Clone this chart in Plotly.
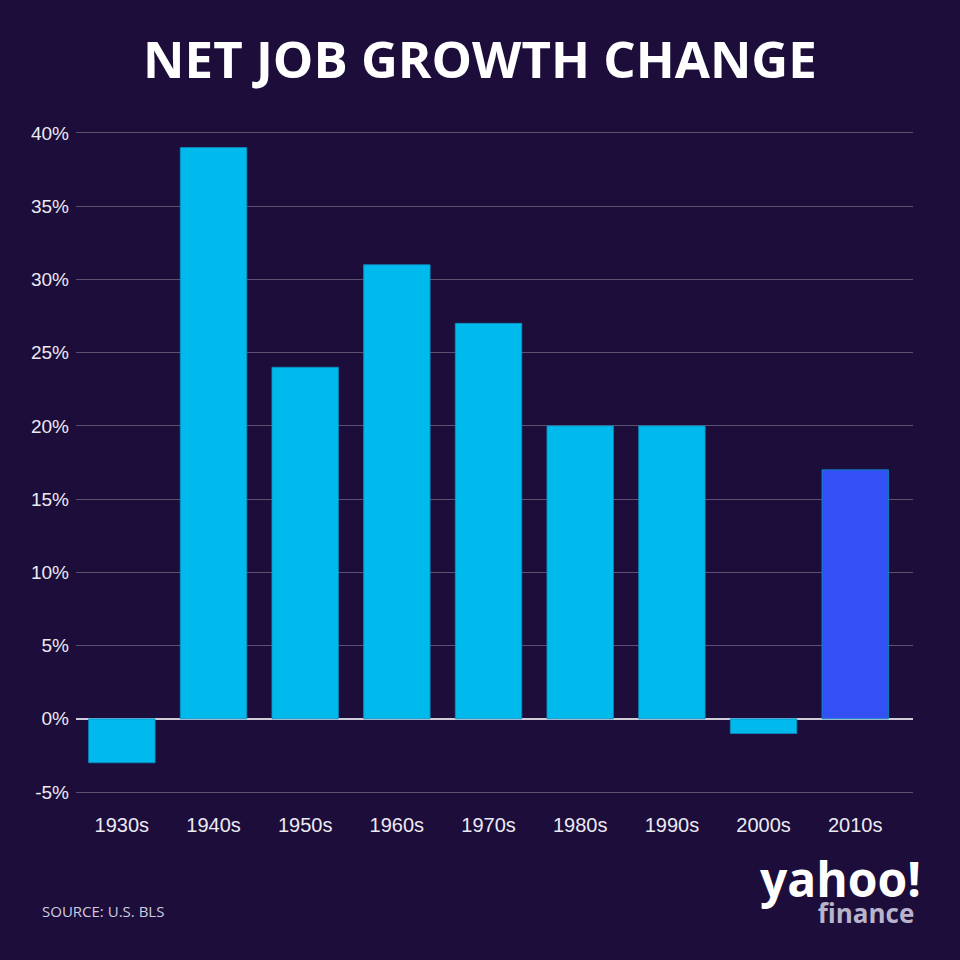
import plotly.graph_objects as go

# datos
decadas = ['1930s', '1940s', '1950s', '1960s', '1970s', '1980s', '1990s', '2000s', '2010s']
crecimiento = [-3, 39, 24, 31, 27, 20, 20, -1, 17]
colores = ['#00b9ed'] * 8 + ['#3350f5']

ticks_y = [-5, 0, 5, 10, 15, 20, 25, 30, 35, 40]
etiquetas_y = [f'{v}%' for v in ticks_y]

fondo = '#1d0d3a'

fig = go.Figure()
fig.add_trace(go.Bar(
    x=decadas, y=crecimiento,
    marker=dict(color=colores, line=dict(color='#0b8fc0', width=0.8)),
    width=0.725,
))

fig.update_layout(
    width=960, height=960,
    paper_bgcolor=fondo, plot_bgcolor=fondo,
    margin=dict(l=76, r=47, t=130, b=165),
    showlegend=False,
    font=dict(family='Liberation Sans, Arial, sans-serif', color='#eceaf2', size=19),
    title=dict(
        text='<b>NET JOB GROWTH CHANGE</b>',
        x=0.5, xanchor='center', y=0.937, yanchor='middle',
        font=dict(family='Open Sans, sans-serif', size=51, color='white'),
    ),
)

fig.update_xaxes(
    range=[-0.5, 8.63], showgrid=False, zeroline=False, showline=False,
    ticks='', tickfont=dict(size=20), ticklabelstandoff=16,
)
fig.update_yaxes(
    range=[-5.2, 40.2], tickvals=ticks_y, ticktext=etiquetas_y,
    showgrid=True, gridcolor='#5b5272', gridwidth=1.2,
    zeroline=True, zerolinecolor='#d0ccd8', zerolinewidth=1.5,
    showline=False, ticks='', tickfont=dict(size=19), ticklabelstandoff=6,
)

# fuente
fig.add_annotation(
    text='SOURCE: U.S. BLS', xref='paper', yref='paper',
    x=-0.043, y=-0.174, xanchor='left', yanchor='middle', showarrow=False,
    font=dict(family='Open Sans, sans-serif', size=15, color='#cfcbe0'),
)

# logo yahoo finance como texto (un solo bloque para que las lineas queden juntas)
logo = ("<span style='font-size:48px;color:white'><b>yahoo!</b></span><br>"
        "<span style='font-size:26px;color:#b9b3cc'><b>finance</b>&nbsp;</span>")
fig.add_annotation(
    text=logo, xref='paper', yref='paper', align='right',
    x=1.012, y=-0.207, xanchor='right', yanchor='bottom', showarrow=False,
    font=dict(family='Open Sans, sans-serif', size=20, color='white'),
)

# quitar el margen del body para que la figura ocupe toda la ventana
fig.write_html(
    'out.html',
    config={'displayModeBar': False},
    post_script="document.body.style.margin='0';document.body.style.overflow='hidden';",
)
